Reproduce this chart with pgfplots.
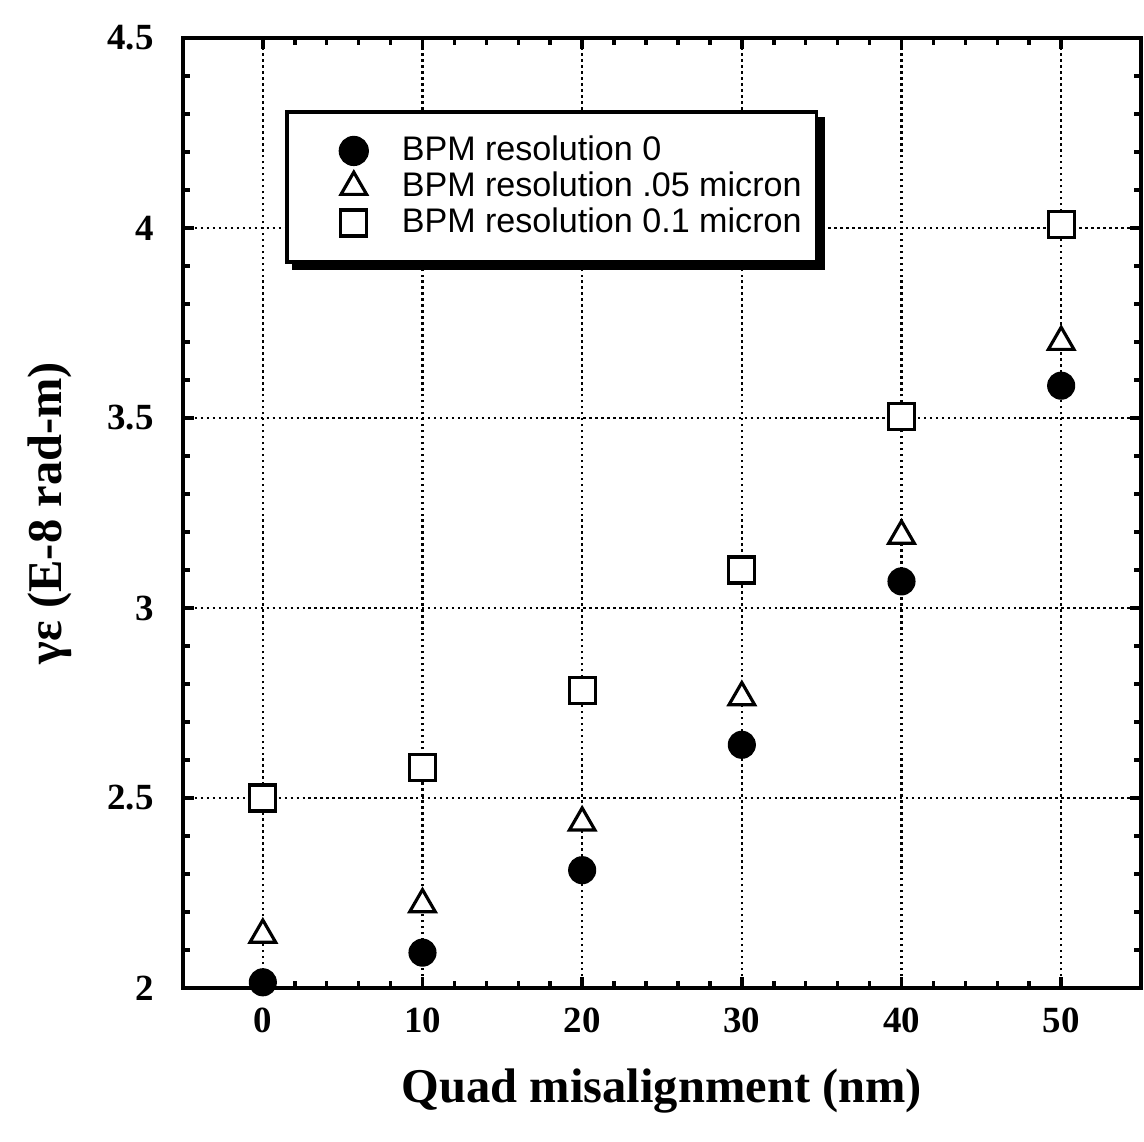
\documentclass[border=0pt]{standalone}
\usepackage{fontspec}
\setmainfont{Liberation Serif}
\newfontfamily\legfont{Liberation Sans}
\usepackage{pgfplots}
\pgfplotsset{compat=1.18}
\usetikzlibrary{backgrounds}

\pgfplotsset{
  legmark/.style={legend image code/.code={
    \path[draw=none] (0cm,0cm) -- (1.0cm,0cm);
    \draw[##1] plot coordinates {(0.52cm,0cm)};}},
}

\begin{document}
\begin{tikzpicture}
\useasboundingbox (-1.83cm,-1.53cm) rectangle (9.61cm,9.88cm);
\begin{axis}[
  at={(0,0)}, anchor=south west,
  scale only axis, width=9.58cm, height=9.50cm,
  xmin=-5, xmax=55, ymin=2, ymax=4.5,
  xtick={0,10,...,50}, ytick={2,2.5,...,4.5},
  minor x tick num=4, minor y tick num=4,
  tick align=inside, major tick length=1.1mm, minor tick length=0.7mm,
  axis line style={line width=1.2pt},
  every tick/.style={black, line width=1pt},
  grid=major, major grid style={black, line width=0.7pt, densely dotted},
  tick label style={font=\fontsize{10.5}{12}\selectfont\bfseries},
  /pgf/number format/assume math mode=true,
  xticklabel style={yshift=-0.8mm},
  yticklabel style={xshift=-1.7mm},
  xlabel={\textbf{Quad misalignment (nm)}},
  ylabel={\textbf{γε (E-8 rad-m)}},
  label style={font=\fontsize{13.8}{16}\selectfont},
  xlabel style={at={(axis description cs:0.5,-0.108)}, anchor=center},
  ylabel style={at={(axis description cs:-0.139,0.5)}, anchor=center},
  legend cell align=left,
  legend style={name=leg, at={(axis description cs:0.1065,0.924)}, anchor=north west,
    draw=black, line width=1pt, fill=white,
    font=\legfont\fontsize{9.7}{11}\selectfont,
    inner xsep=1.5mm, inner ysep=2.1mm, row sep=0pt, column sep=0pt,
    nodes={inner sep=0pt, text height=2.8mm, text depth=0.8mm}},
]
\addplot[only marks, mark=*, mark size=3.8pt, black, legmark] coordinates {
  (0,2.015) (10,2.093) (20,2.31) (30,2.64) (40,3.07) (50,3.585)
};
\addlegendentry{BPM resolution 0}
\addplot[only marks, mark=triangle*, mark size=4.2pt, black,
  mark options={draw=black, fill=white, line width=0.9pt}, legmark] coordinates {
  (0,2.14) (10,2.22) (20,2.435) (30,2.765) (40,3.19) (50,3.70)
};
\addlegendentry{BPM resolution .05 micron}
\addplot[only marks, mark=square*, mark size=3.7pt, black,
  mark options={draw=black, fill=white, line width=0.9pt}, legmark] coordinates {
  (0,2.50) (10,2.58) (20,2.783) (30,3.10) (40,3.505) (50,4.01)
};
\addlegendentry{BPM resolution 0.1 micron}
\end{axis}
% drop shadow of the legend box
\begin{pgfonlayer}{background}
\fill[black] ([xshift=0.65mm,yshift=-0.65mm]leg.south west)
  rectangle ([xshift=0.65mm,yshift=-0.65mm]leg.north east);
\end{pgfonlayer}
\end{tikzpicture}
\end{document}
